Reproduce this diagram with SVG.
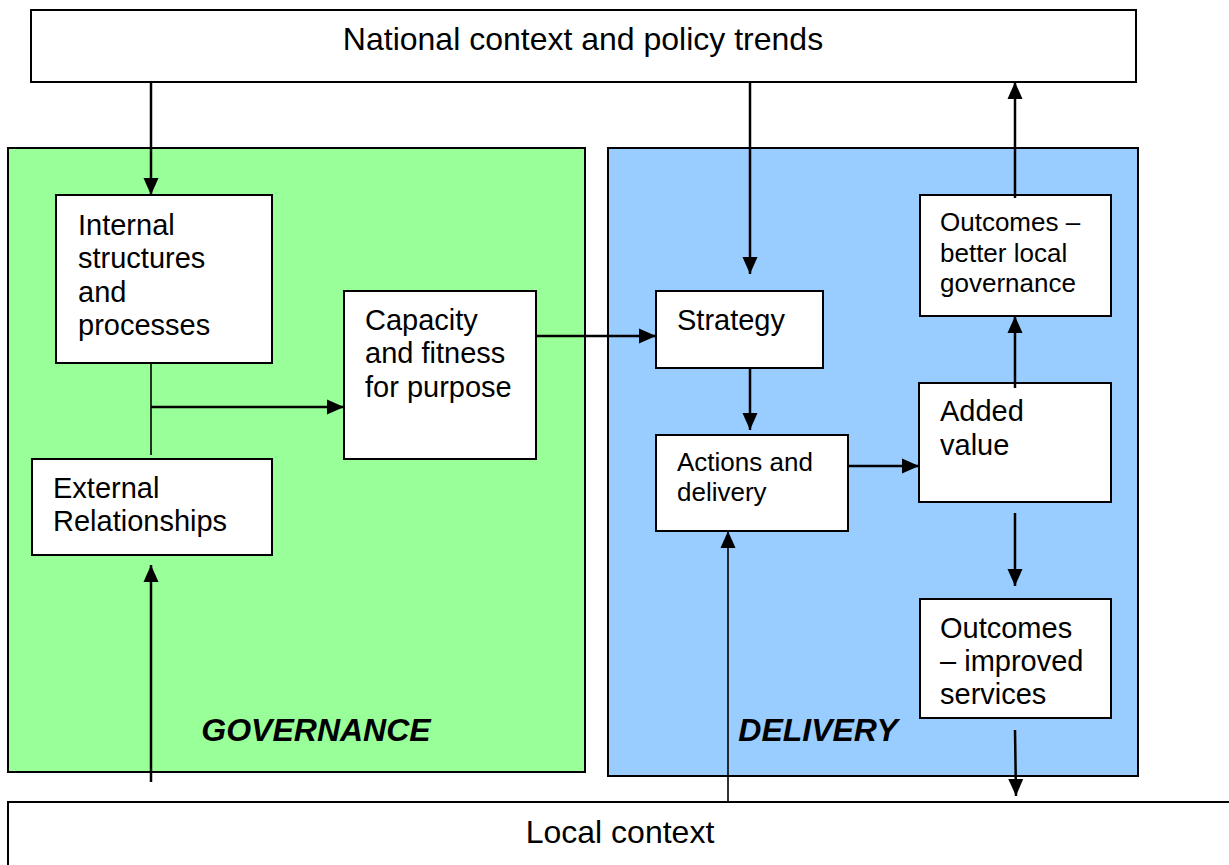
<svg xmlns="http://www.w3.org/2000/svg" width="1229" height="865" viewBox="0 0 1229 865">
<style>
.box{fill:#fff;stroke:#000;stroke-width:2}
.t{font-family:"Liberation Sans",Arial,sans-serif;font-size:29px;fill:#000}
.s{font-size:26px}
.lbl{font-family:"Liberation Sans",Arial,sans-serif;font-size:32px;font-weight:bold;font-style:italic;fill:#000}
.c{stroke:#000;stroke-width:2.5;fill:none}
.thin{stroke:#000;stroke-width:1.6;fill:none}
</style>
<defs>
<marker id="ah" markerWidth="17" markerHeight="17" refX="17" refY="8.5" orient="auto" markerUnits="userSpaceOnUse" viewBox="0 0 17 17">
<path d="M0,1 L17,8.5 L0,16 z" fill="#000"/>
</marker>
</defs>
<g id="national"><rect class="box" x="31" y="10" width="1105" height="72"/><text class="t" x="583" y="50" text-anchor="middle" style="font-size:32px">National context and policy trends</text></g>
<g id="governance"><rect x="8" y="148" width="577" height="624" fill="#99ff99" stroke="#000" stroke-width="2"/><text class="lbl" x="316" y="741" text-anchor="middle">GOVERNANCE</text></g>
<g id="delivery"><rect x="608" y="148" width="530" height="628" fill="#99ccff" stroke="#000" stroke-width="2"/><text class="lbl" x="818" y="741" text-anchor="middle">DELIVERY</text></g>
<g id="internal"><rect class="box" x="56" y="195" width="216" height="168"/><text class="t"><tspan x="78" y="235">Internal</tspan><tspan x="78" y="268">structures</tspan><tspan x="78" y="302">and</tspan><tspan x="78" y="335">processes</tspan></text></g>
<g id="external"><rect class="box" x="32" y="459" width="240" height="96"/><text class="t"><tspan x="53" y="498">External</tspan><tspan x="53" y="531">Relationships</tspan></text></g>
<g id="capacity"><rect class="box" x="344" y="291" width="192" height="168"/><text class="t"><tspan x="365" y="330">Capacity</tspan><tspan x="365" y="363">and fitness</tspan><tspan x="365" y="397">for purpose</tspan></text></g>
<g id="strategy"><rect class="box" x="656" y="291" width="167" height="77"/><text class="t" x="677" y="330">Strategy</text></g>
<g id="actions"><rect class="box" x="656" y="435" width="192" height="96"/><text class="t s"><tspan x="677" y="471">Actions and</tspan><tspan x="677" y="501">delivery</tspan></text></g>
<g id="added"><rect class="box" x="919" y="383" width="192" height="119"/><text class="t"><tspan x="940" y="421">Added</tspan><tspan x="940" y="455">value</tspan></text></g>
<g id="outgov"><rect class="box" x="920" y="195" width="191" height="121"/><text class="t s"><tspan x="940" y="231">Outcomes –</tspan><tspan x="940" y="262">better local</tspan><tspan x="940" y="292">governance</tspan></text></g>
<g id="outserv"><rect class="box" x="920" y="599" width="191" height="119"/><text class="t"><tspan x="940" y="638">Outcomes</tspan><tspan x="940" y="671">– improved</tspan><tspan x="940" y="704">services</tspan></text></g>
<g id="local"><rect class="box" x="8" y="802" width="1240" height="80"/><text class="t" x="620" y="843" text-anchor="middle" style="font-size:32px">Local context</text></g>
<g id="connectors">
<line class="c" x1="151" y1="82" x2="151" y2="195" marker-end="url(#ah)"/>
<line class="thin" x1="151" y1="363" x2="151" y2="455"/>
<line class="c" x1="151" y1="407" x2="344" y2="407" marker-end="url(#ah)"/>
<line class="c" x1="151" y1="782" x2="151" y2="565" marker-end="url(#ah)"/>
<line class="c" x1="750" y1="82" x2="750" y2="274" marker-end="url(#ah)"/>
<line class="c" x1="536" y1="336" x2="656" y2="336" marker-end="url(#ah)"/>
<line class="c" x1="750" y1="368" x2="750" y2="430" marker-end="url(#ah)"/>
<line class="c" x1="848" y1="466" x2="919" y2="466" marker-end="url(#ah)"/>
<line class="c" x1="1015" y1="388" x2="1015" y2="316" marker-end="url(#ah)"/>
<line class="c" x1="1015" y1="198" x2="1015" y2="82" marker-end="url(#ah)"/>
<line class="c" x1="1015" y1="513" x2="1015" y2="586" marker-end="url(#ah)"/>
<line class="c" x1="1015" y1="730" x2="1016" y2="796" marker-end="url(#ah)"/>
<line class="thin" x1="728" y1="802" x2="728" y2="531" marker-end="url(#ah)"/>
</g>
</svg>
